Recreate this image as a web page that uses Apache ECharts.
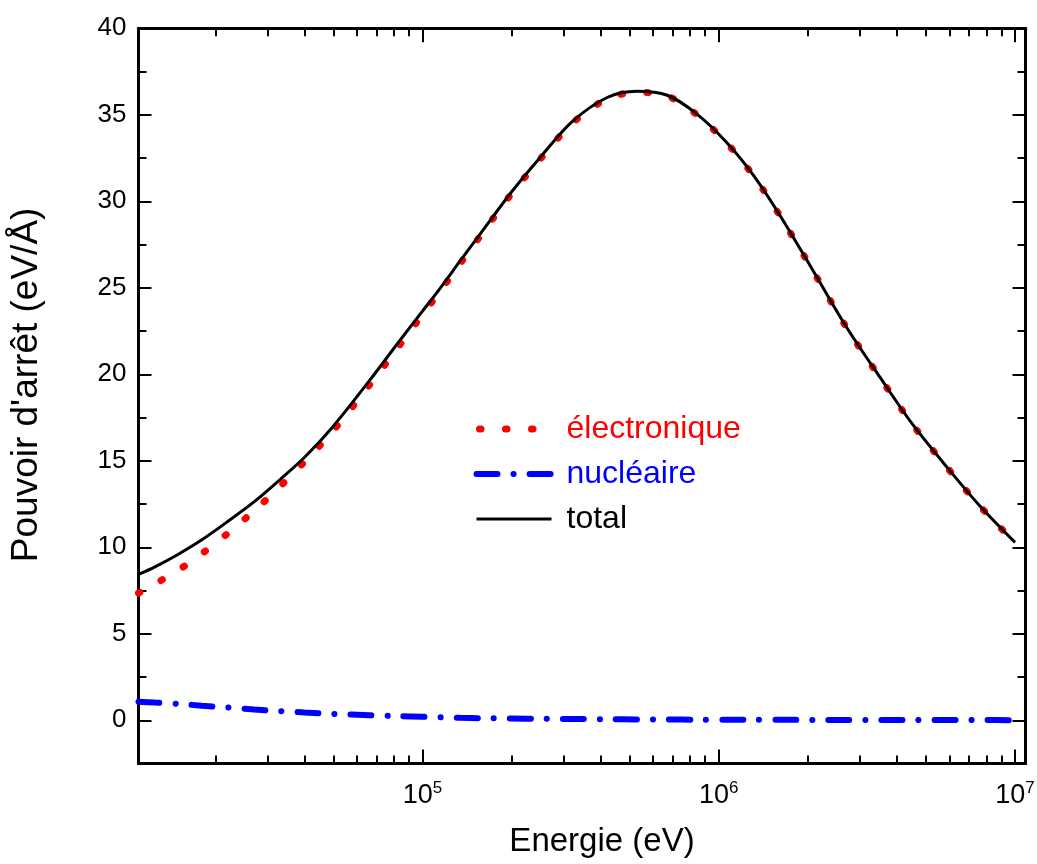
<!DOCTYPE html>
<html>
<head>
<meta charset="utf-8">
<script src="https://cdn.jsdelivr.net/npm/echarts@6/dist/echarts.min.js"></script>
<style>
  html, body { margin: 0; padding: 0; background: #fff; }
  #chart { width: 1037px; height: 864px; }
</style>
</head>
<body>
<div id="chart"></div>
<script>
// energies (eV) where the curves were read
const energies = [1.1e4, 1.25e4, 1.5e4, 1.8e4, 2.2e4, 2.7e4, 3.3e4, 4e4, 5e4, 6.6e4, 8.3e4,
  1e5, 1.15e5, 1.34e5, 1.58e5, 2e5, 2.5e5, 3.2e5, 4.2e5, 5.3e5, 6.7e5, 8.4e5,
  1.06e6, 1.31e6, 1.61e6, 2.08e6, 2.7e6, 3.5e6, 4.5e6, 5.9e6, 7.6e6, 1e7];

const electronic = [7.35, 7.88, 8.68, 9.63, 10.8, 12.1, 13.5, 14.95, 16.75, 19.35, 21.6,
  23.45, 24.83, 26.4, 28.08, 30.45, 32.45, 34.5, 35.93, 36.3, 36.09, 35.03,
  33.4, 31.47, 29.15, 25.98, 22.7, 19.81, 17.12, 14.61, 12.39, 10.27];

const nuclear = [1.07, 1.02, 0.95, 0.84, 0.74, 0.62, 0.53, 0.45, 0.37, 0.29, 0.24,
  0.2, 0.17, 0.14, 0.12, 0.1, 0.085, 0.075, 0.06, 0.05, 0.04, 0.035,
  0.03, 0.027, 0.024, 0.02, 0.018, 0.015, 0.013, 0.011, 0.009, 0.007];

const total = [8.43, 8.87, 9.6, 10.43, 11.49, 12.62, 13.9, 15.2, 17.0, 19.6, 21.85,
  23.65, 25.0, 26.55, 28.2, 30.55, 32.55, 34.6, 36.0, 36.36, 36.13, 35.07,
  33.43, 31.5, 29.18, 26.0, 22.72, 19.83, 17.13, 14.62, 12.4, 10.28];

const seriesNames = ['électronique', 'nucléaire', 'total'];
const seriesColors = ['#ff0000', '#0000ff', '#000000'];

// tick values
const xMajorTicks = [1e5, 1e6, 1e7];
const xMinorTicks = [2e4, 3e4, 4e4, 5e4, 6e4, 7e4, 8e4, 9e4,
  2e5, 3e5, 4e5, 5e5, 6e5, 7e5, 8e5, 9e5,
  2e6, 3e6, 4e6, 5e6, 6e6, 7e6, 8e6, 9e6];
const yMajorTicks = [0, 5, 10, 15, 20, 25, 30, 35, 40];
const yMinorTicks = [2.5, 7.5, 12.5, 17.5, 22.5, 27.5, 32.5, 37.5];

const X_MIN = 1.1e4, X_MAX = 1.085e7;
const Y_MIN = -2.5, Y_MAX = 40;
const FONT = '"Liberation Sans", Arial, sans-serif';

const lineStyles = [
  { color: seriesColors[0], width: 7, type: [1.5, 24.5], cap: 'round' },
  { color: seriesColors[1], width: 6, type: [21, 16, 0.1, 16], cap: 'round' },
  { color: seriesColors[2], width: 3, type: 'solid' }
];

const chart = echarts.init(document.getElementById('chart'), null, { renderer: 'canvas' });

function pairs(vals) {
  return energies.map((e, i) => [e, vals[i]]);
}

function xAxisDef(position, ticks, tickLen, main) {
  return {
    type: 'log',
    logBase: 10,
    min: X_MIN,
    max: X_MAX,
    position: position,
    axisLine: { show: main, onZero: false, lineStyle: { color: '#000', width: 3 } },
    axisTick: { show: true, inside: true, length: tickLen, customValues: ticks,
      lineStyle: { color: '#000', width: 2 } },
    axisLabel: { show: false },
    splitLine: { show: false },
    minorTick: { show: false },
    minorSplitLine: { show: false }
  };
}

function yAxisDef(position, ticks, tickLen, main) {
  return {
    type: 'value',
    min: Y_MIN,
    max: Y_MAX,
    position: position,
    axisLine: { show: main, onZero: false, lineStyle: { color: '#000', width: 3 } },
    axisTick: { show: true, inside: true, length: tickLen, customValues: ticks,
      lineStyle: { color: '#000', width: 2 } },
    axisLabel: { show: false },
    splitLine: { show: false }
  };
}

const xBottom = xAxisDef('bottom', xMajorTicks, 14, true);
xBottom.axisLabel = {
  show: true,
  customValues: xMajorTicks,
  margin: 16,
  color: '#000',
  formatter: v => '{b|10}{s|' + Math.round(Math.log10(v)) + '}',
  rich: {
    b: { fontSize: 27, fontFamily: FONT, color: '#000', lineHeight: 30, verticalAlign: 'bottom' },
    s: { fontSize: 17, fontFamily: FONT, color: '#000', lineHeight: 17, verticalAlign: 'top' }
  }
};
xBottom.name = 'Energie (eV)';
xBottom.nameLocation = 'middle';
xBottom.nameGap = 62;
xBottom.nameTextStyle = { fontSize: 33, fontFamily: FONT, color: '#000', padding: [0, 0, 0, 40] };

const yLeft = yAxisDef('left', yMajorTicks, 13, true);
yLeft.axisLabel = {
  show: true,
  customValues: yMajorTicks,
  margin: 12,
  fontSize: 26,
  fontFamily: FONT,
  color: '#000'
};
yLeft.name = "Pouvoir d'arrêt (eV/Å)";
yLeft.nameLocation = 'middle';
yLeft.nameGap = 93;
yLeft.nameTextStyle = { fontSize: 37, fontFamily: FONT, color: '#000', padding: [0, 0, 0, 22] };

chart.setOption({
  backgroundColor: '#fff',
  animation: false,
  textStyle: { fontFamily: FONT },
  grid: { left: 138.5, right: 11.5, top: 28.3, bottom: 100.5, containLabel: false, outerBoundsMode: 'none' },
  legend: {
    data: seriesNames.map((n, i) => ({
      name: n,
      textStyle: { color: seriesColors[i] },
      lineStyle: Object.assign({ dashOffset: i === 0 ? -3 : 0 }, lineStyles[i])
    })),
    orient: 'vertical',
    left: 473,
    top: 413,
    padding: 0,
    itemWidth: 75,
    itemHeight: 14,
    itemGap: 13,
    itemStyle: { opacity: 0, color: 'rgba(0,0,0,0)', borderWidth: 0 },
    textStyle: { fontSize: 32, fontFamily: FONT, lineHeight: 32, padding: [0, 0, 0, 10] },
    selectedMode: false
  },
  xAxis: [
    xBottom,
    xAxisDef('bottom', xMinorTicks, 8, false),
    xAxisDef('top', xMajorTicks, 14, true),
    xAxisDef('top', xMinorTicks, 8, false)
  ],
  yAxis: [
    yLeft,
    yAxisDef('left', yMinorTicks, 8, false),
    yAxisDef('right', yMajorTicks, 13, true),
    yAxisDef('right', yMinorTicks, 8, false)
  ],
  series: seriesNames.map((n, i) => ({
    name: n,
    type: 'line',
    data: pairs([electronic, nuclear, total][i]),
    smooth: 0.3,
    showSymbol: false,
    symbol: 'none',
    lineStyle: lineStyles[i],
    itemStyle: { color: seriesColors[i] },
    z: i === 2 ? 3 : 2
  }))
});
</script>
</body>
</html>
